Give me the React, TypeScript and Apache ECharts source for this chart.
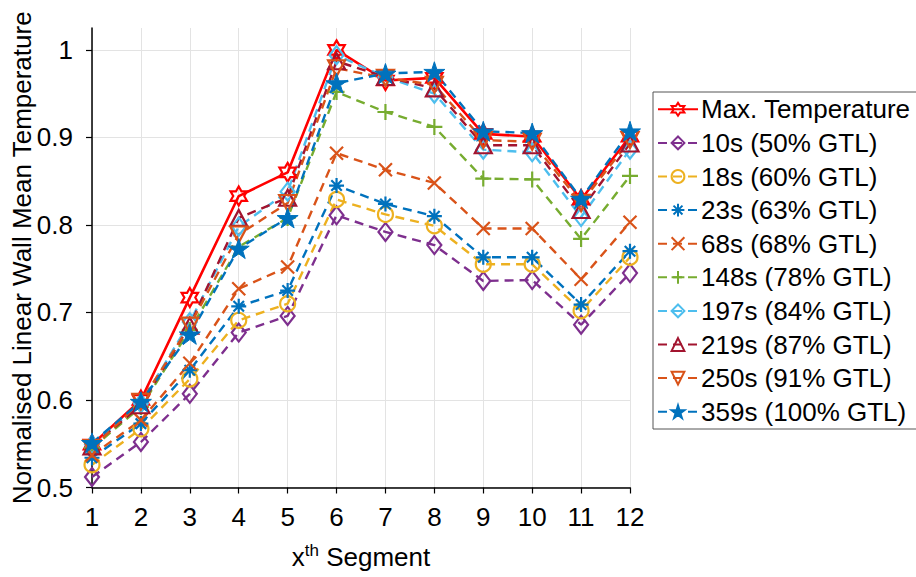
import React, { useEffect, useRef } from "react";
import * as echarts from "echarts";

const segments = [1, 2, 3, 4, 5, 6, 7, 8, 9, 10, 11, 12];
const yTicks = [0.5, 0.6, 0.7, 0.8, 0.9, 1.0];

const maxTemp = [0.549, 0.600, 0.717, 0.833, 0.860, 1.000, 0.965, 0.968, 0.904, 0.901, 0.829, 0.901];
const s10 = [0.512, 0.552, 0.607, 0.677, 0.696, 0.811, 0.792, 0.777, 0.736, 0.737, 0.686, 0.745];
const s18 = [0.526, 0.567, 0.624, 0.691, 0.710, 0.829, 0.812, 0.799, 0.755, 0.755, 0.702, 0.763];
const s23 = [0.534, 0.573, 0.634, 0.707, 0.725, 0.845, 0.824, 0.810, 0.763, 0.763, 0.709, 0.770];
const s68 = [0.537, 0.577, 0.642, 0.727, 0.752, 0.882, 0.863, 0.848, 0.796, 0.796, 0.738, 0.803];
const s148 = [0.545, 0.592, 0.680, 0.775, 0.808, 0.952, 0.929, 0.912, 0.853, 0.852, 0.784, 0.856];
const s197 = [0.549, 0.596, 0.689, 0.798, 0.838, 0.994, 0.969, 0.950, 0.886, 0.883, 0.809, 0.886];
const s219 = [0.547, 0.594, 0.685, 0.808, 0.831, 0.987, 0.969, 0.956, 0.891, 0.891, 0.817, 0.893];
const s250 = [0.545, 0.598, 0.685, 0.789, 0.825, 0.979, 0.968, 0.960, 0.897, 0.895, 0.825, 0.897];
const s359 = [0.551, 0.598, 0.675, 0.773, 0.808, 0.962, 0.973, 0.975, 0.907, 0.905, 0.830, 0.907];

const seriesNames = [
  "Max. Temperature",
  "10s (50% GTL)",
  "18s (60% GTL)",
  "23s (63% GTL)",
  "68s (68% GTL)",
  "148s (78% GTL)",
  "197s (84% GTL)",
  "219s (87% GTL)",
  "250s (91% GTL)",
  "359s (100% GTL)",
];
const seriesValues = [maxTemp, s10, s18, s23, s68, s148, s197, s219, s250, s359];

const HEXAGRAM =
  "path://M0,-10L2.887,-5L8.66,-5L5.77,0L8.66,5L2.887,5L0,10L-2.887,5L-8.66,5L-5.77,0L-8.66,-5L-2.887,-5Z";
const PENTAGRAM =
  "path://M0,-10L2.245,-3.09L9.511,-3.09L3.633,1.18L5.878,8.09L0,3.82L-5.878,8.09L-3.633,1.18L-9.511,-3.09L-2.245,-3.09Z";
const ASTERISK = "path://M0,-10L0,10M-10,0L10,0M-7,-7L7,7M-7,7L7,-7";
const XMARK = "path://M-10,-10L10,10M-10,10L10,-10";
const PLUS = "path://M0,-10L0,10M-10,0L10,0";

type Style = {
  color: string;
  symbol: string;
  size: number | number[];
  solid?: boolean;
  filled?: boolean;
  rotate?: number;
};

const styles: Style[] = [
  { color: "#FF0000", symbol: HEXAGRAM, size: 19, solid: true },
  { color: "#7E2F8E", symbol: "diamond", size: [14, 18] },
  { color: "#EDB120", symbol: "circle", size: 15 },
  { color: "#0072BD", symbol: ASTERISK, size: 15 },
  { color: "#D95319", symbol: XMARK, size: 13 },
  { color: "#77AC30", symbol: PLUS, size: 16 },
  { color: "#4DBEEE", symbol: "diamond", size: [14, 18] },
  { color: "#A2142F", symbol: "triangle", size: [17, 16] },
  { color: "#D95319", symbol: "triangle", size: [17, 16], rotate: 180 },
  { color: "#0072BD", symbol: PENTAGRAM, size: 21, filled: true },
];

const FONT = "'Liberation Sans', Arial, Helvetica, sans-serif";
const FS = 26;

export default function App() {
  const ref = useRef<HTMLDivElement>(null);

  useEffect(() => {
    if (!ref.current) return;
    const chart = echarts.init(ref.current, undefined, { renderer: "svg" });

    const series = seriesNames.map((name, i) => {
      const st = styles[i];
      return {
        name,
        type: "line",
        data: segments.map((x, j) => [x, seriesValues[i][j]]),
        symbol: st.symbol,
        symbolSize: st.size,
        symbolKeepAspect: true,
        symbolRotate: st.rotate || 0,
        showAllSymbol: true,
        lineStyle: {
          color: st.color,
          width: st.solid ? 2.6 : 2.4,
          type: st.solid ? "solid" : [9, 6],
        },
        itemStyle: {
          color: st.filled ? st.color : "rgba(0,0,0,0)",
          borderColor: st.color,
          borderWidth: st.filled ? 1 : 2.2,
        },
        emphasis: { disabled: true },
      };
    });

    chart.setOption({
      animation: false,
      backgroundColor: "#ffffff",
      grid: {
        left: 92,
        right: 286,
        top: 28,
        bottom: 89.5,
        containLabel: false,
        outerBoundsMode: "none",
      },
      legend: {
        orient: "vertical",
        left: 653,
        top: 92,
        padding: [4.3, 8, 4.3, 4],
        itemWidth: 40,
        itemHeight: 16,
        itemGap: 7.6,
        borderColor: "#555555",
        borderWidth: 1,
        backgroundColor: "#ffffff",
        selectedMode: false,
        data: seriesNames,
        textStyle: {
          fontSize: FS,
          lineHeight: FS,
          fontFamily: FONT,
          color: "#000000",
          padding: [0, 0, 0, -2],
        },
      },
      xAxis: {
        type: "value",
        min: 1,
        max: 12,
        interval: 1,
        name: "{x|x}{sup|th}{x| Segment}",
        nameLocation: "middle",
        nameGap: 54,
        nameMoveOverlap: false,
        nameTextStyle: {
          rich: {
            x: { fontSize: FS, fontFamily: FONT, color: "#000000" },
            sup: { fontSize: 17, fontFamily: FONT, color: "#000000", verticalAlign: "top", padding: [0, 0, 13, 0] },
          },
        },
        axisLine: { show: true, onZero: false, lineStyle: { color: "#000000", width: 1.5 } },
        axisTick: { show: true, inside: false, length: 6, lineStyle: { color: "#000000", width: 1.2 } },
        axisLabel: { fontSize: FS, fontFamily: FONT, color: "#000000", margin: 16 },
        splitLine: { show: true, lineStyle: { color: "#e3e3e3", width: 1 } },
      },
      yAxis: {
        type: "value",
        min: 0.5,
        max: 1.025,
        interval: 0.1,
        name: "Normalised Linear Wall Mean Temperature",
        nameLocation: "middle",
        nameGap: 57,
        nameMoveOverlap: false,
        nameTextStyle: { fontSize: FS, fontFamily: FONT, color: "#000000" },
        axisLine: { show: true, onZero: false, lineStyle: { color: "#000000", width: 1.5 } },
        axisTick: { show: true, inside: false, length: 6, lineStyle: { color: "#000000", width: 1.2 } },
        axisLabel: {
          fontSize: FS,
          fontFamily: FONT,
          color: "#000000",
          margin: 19,
          showMaxLabel: false,
          formatter: (v: number) => {
            const isTick = yTicks.some((t) => Math.abs(t - v) < 1e-6);
            if (!isTick) return "";
            return String(Math.round(v * 10) / 10);
          },
        },
        splitLine: { show: true, showMaxLine: false, lineStyle: { color: "#e3e3e3", width: 1 } },
      },
      series,
    });

    return () => chart.dispose();
  }, []);

  return <div ref={ref} style={{ width: 916, height: 577, position: "absolute", left: 0, top: 0 }} />;
}
